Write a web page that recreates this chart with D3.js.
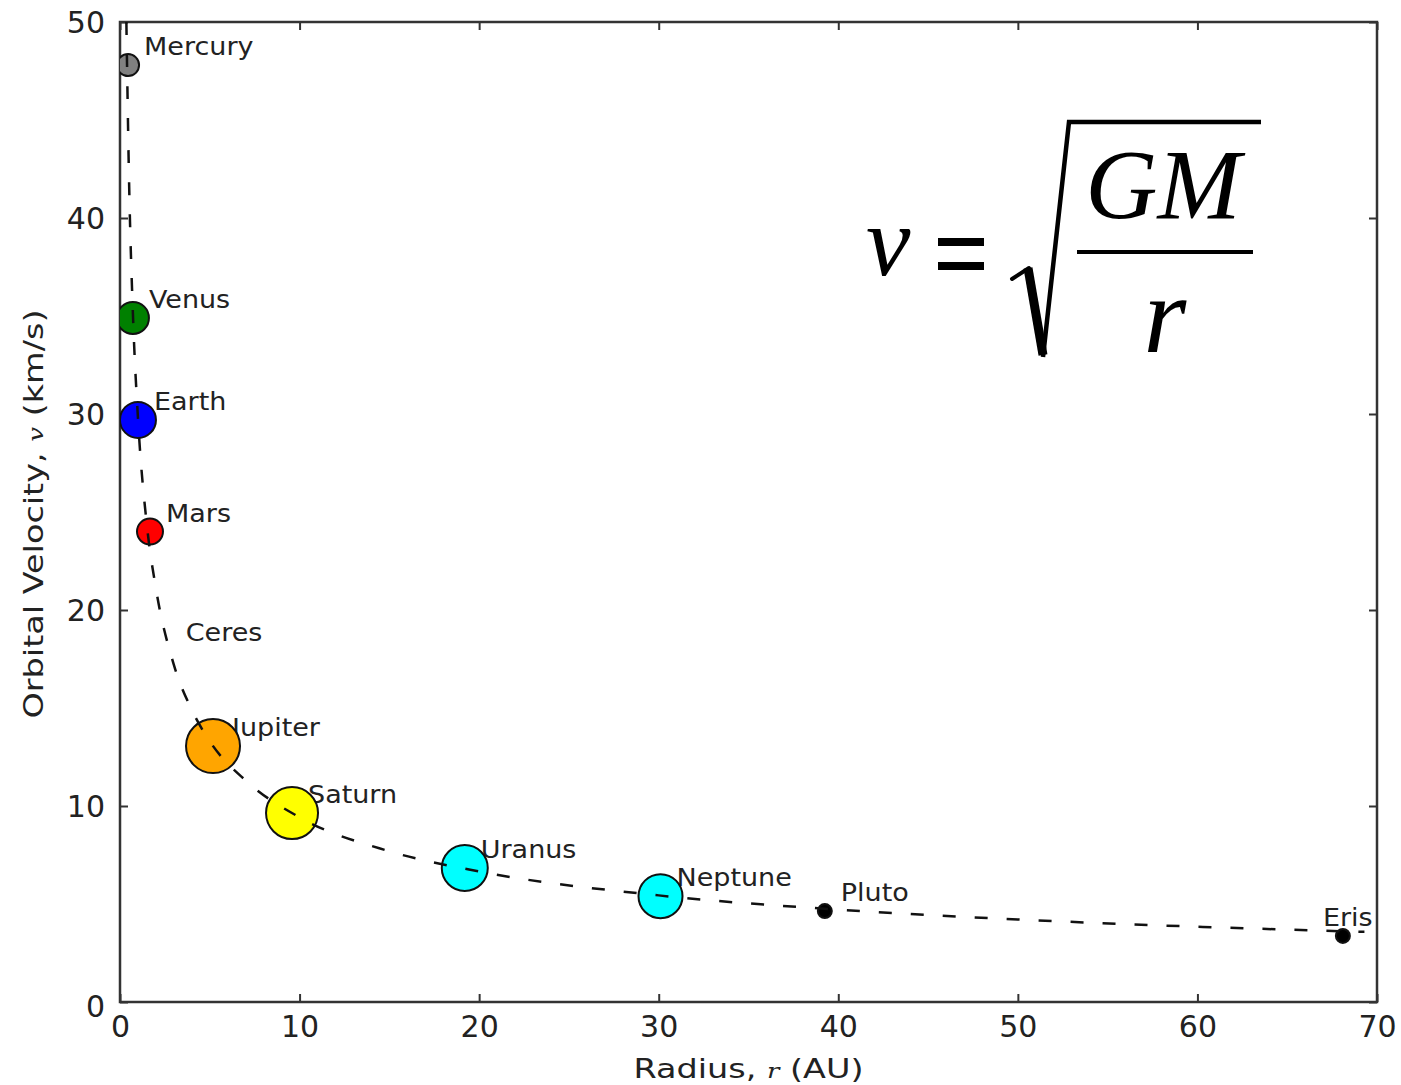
<!DOCTYPE html>
<html><head><meta charset="utf-8">
<script src="https://cdn.jsdelivr.net/npm/d3@7"></script>
<style>
html,body{margin:0;padding:0;background:#fff;}
svg{display:block;}
</style></head>
<body>
<svg id="chart" width="1401" height="1085"></svg>
<script>
// ---- data ----
const planets = ["Mercury","Venus","Earth","Mars","Ceres","Jupiter","Saturn","Uranus","Neptune","Pluto","Eris"];
const radiusAU = [0.45, 0.72, 1.0, 1.67, 2.77, 5.18, 9.58, 19.2, 30.1, 39.25, 68.1];
const velocity = [47.8, 34.9, 29.7, 24.0, 17.9, 13.06, 9.64, 6.84, 5.4, 4.64, 3.37];
const markerSize = [11, 16, 18, 13, 0, 27, 26, 23, 22, 7, 7];
const markerColor = ["#808080","#008000","#0000ff","#ff0000","none","#ffa500","#ffff00","#00ffff","#00ffff","#000000","#000000"];
// dashed curve, points
const curveR = [0.355, 0.5, 0.72, 1.0, 1.5, 2, 3, 4, 5, 7, 10, 15, 20, 30, 40, 50, 60, 69.3];
const curveV = [50, 42.1, 35.1, 29.8, 24.3, 21.1, 17.2, 14.9, 13.3, 11.3, 9.42, 7.69, 6.66, 5.44, 4.71, 4.21, 3.84, 3.58];
const xTicks = [0,10,20,30,40,50,60,70];
const yTicks = [0,10,20,30,40,50];

// ---- layout ----
const svg = d3.select("#chart");
const L = 120, R = 1377, T = 22, B = 1002;
const x = d3.scaleLinear().domain([0,70]).range([L,R]);
const y = d3.scaleLinear().domain([0,50]).range([B,T]);
const tickFont = "DejaVu Sans, sans-serif";
const ink = "#222";

// axes with inward ticks
const axB = svg.append("g").attr("transform",`translate(0,${B})`)
  .call(d3.axisBottom(x).tickValues(xTicks).tickSizeInner(-8).tickSizeOuter(0).tickPadding(14));
const axL = svg.append("g").attr("transform",`translate(${L},0)`)
  .call(d3.axisLeft(y).tickValues(yTicks).tickSizeInner(-8).tickSizeOuter(0).tickPadding(15));
const axT = svg.append("g").attr("transform",`translate(0,${T})`)
  .call(d3.axisTop(x).tickValues(xTicks).tickSizeInner(-8).tickSizeOuter(0).tickFormat(""));
const axR = svg.append("g").attr("transform",`translate(${R},0)`)
  .call(d3.axisRight(y).tickValues(yTicks).tickSizeInner(-8).tickSizeOuter(0).tickFormat(""));
[axB,axL,axT,axR].forEach(a=>{
  a.select(".domain").remove();
  a.selectAll(".tick line").attr("stroke","#333").attr("stroke-width",2);
  a.selectAll(".tick text").attr("fill",ink).style("font-family",tickFont).style("font-size","30px");
});
axL.selectAll(".tick text").attr("dy","0.36em");
axL.selectAll(".tick").filter(d=>d===0).select("text").attr("dy","0.48em");
axB.selectAll(".tick text").attr("dy","0.71em");

// frame
svg.append("rect").attr("x",L).attr("y",T).attr("width",R-L).attr("height",B-T)
  .attr("fill","none").attr("stroke","#333").attr("stroke-width",2.5);

// axis labels (glyphs a little wider than DejaVu, as in the picture)
const xl = svg.append("text").attr("transform",`translate(${(L+R)/2},1078) scale(1.24,1)`).attr("text-anchor","middle")
  .attr("fill",ink).style("font-family",tickFont).style("font-size","27px");
xl.append("tspan").text("Radius, ");
xl.append("tspan").text("r").style("font-family","DejaVu Serif, serif").style("font-style","italic").style("font-size","21px");
xl.append("tspan").text(" (AU)");

const yl = svg.append("text").attr("transform",`translate(43,${(T+B)/2+2}) rotate(-90) scale(1.24,1)`).attr("text-anchor","middle")
  .attr("fill",ink).style("font-family",tickFont).style("font-size","27px");
yl.append("tspan").text("Orbital Velocity, ");
yl.append("tspan").text("v").style("font-family","DejaVu Serif, serif").style("font-style","italic").style("font-size","21px");
yl.append("tspan").text(" (km/s)");

// plot clip
svg.append("defs").append("clipPath").attr("id","clip")
  .append("rect").attr("x",L).attr("y",T).attr("width",R-L).attr("height",B-T);
const plot = svg.append("g").attr("clip-path","url(#clip)");

// labels (behind markers)
plot.selectAll("text.lbl").data(planets).join("text").attr("class","lbl")
  .attr("transform",(d,i)=>`translate(${x(radiusAU[i]) + (d==="Eris" ? -20 : (d==="Jupiter"?19:16))},${y(velocity[i]) - 10}) scale(1.08,1)`)
  .attr("fill",ink).style("font-family",tickFont).style("font-size","25px")
  .text(d=>d);

// markers
plot.selectAll("circle.pl").data(planets).join("circle").attr("class","pl")
  .attr("cx",(d,i)=>x(radiusAU[i])).attr("cy",(d,i)=>y(velocity[i]))
  .attr("r",(d,i)=>markerSize[i])
  .attr("fill",(d,i)=>markerColor[i])
  .attr("stroke","#111").attr("stroke-width",(d,i)=>markerSize[i]>0?2:0);

// dashed curve (on top)
const pts = curveR.map((r,i)=>[r,curveV[i]]);
plot.append("path").datum(pts)
  .attr("d", d3.line().x(d=>x(d[0])).y(d=>y(d[1])).curve(d3.curveMonotoneX))
  .attr("fill","none").attr("stroke","#111").attr("stroke-width",2.5)
  .attr("stroke-dasharray","13,19");

// formula v = sqrt(GM/r)
const f = svg.append("g").style("font-family","Liberation Serif, Times New Roman, serif").attr("fill","#000");
f.append("text").attr("x",866).attr("y",275).style("font-style","italic").style("font-size","100px").text("v");
f.append("rect").attr("x",938).attr("y",238).attr("width",46).attr("height",8);
f.append("rect").attr("x",938).attr("y",262).attr("width",46).attr("height",8);
f.append("path").attr("d","M1012,279 L1029,268")
  .attr("fill","none").attr("stroke","#000").attr("stroke-width",4).attr("stroke-linecap","round");
f.append("path").attr("d","M1028,268 L1043,355")
  .attr("fill","none").attr("stroke","#000").attr("stroke-width",9);
f.append("path").attr("d","M1043,357 L1069,122 L1261,122")
  .attr("fill","none").attr("stroke","#000").attr("stroke-width",4.5).attr("stroke-linejoin","miter");
f.append("rect").attr("x",1077).attr("y",250).attr("width",176).attr("height",4);
f.append("text").attr("x",1163).attr("y",218).attr("text-anchor","middle").style("font-style","italic").style("font-size","100px").text("GM");
f.append("text").attr("x",1165).attr("y",352).attr("text-anchor","middle").style("font-style","italic").style("font-size","110px").text("r");
</script>
</body></html>
